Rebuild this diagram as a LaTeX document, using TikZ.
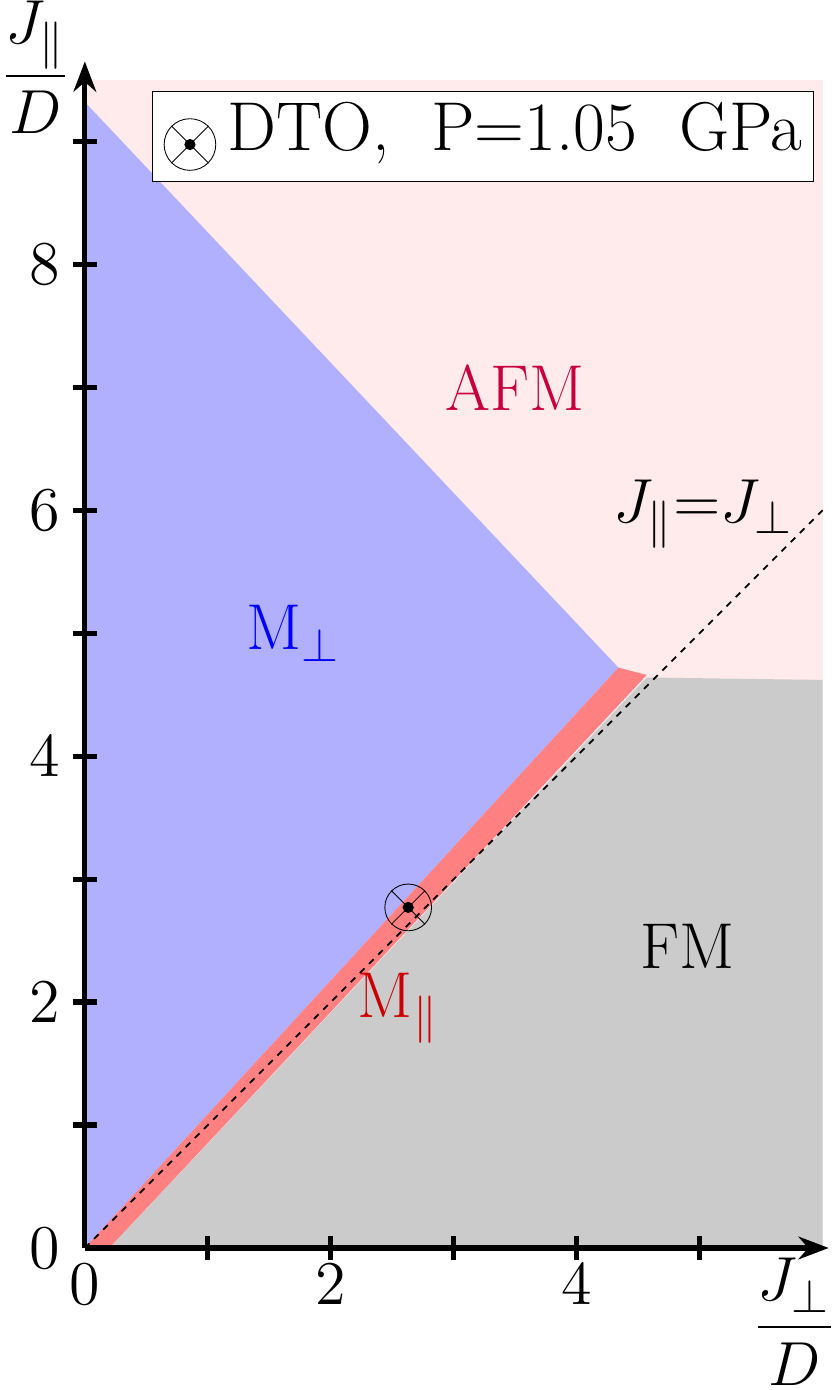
\documentclass[tikz,border=0pt]{standalone}
\usetikzlibrary{arrows.meta}
\definecolor{afmpink}{RGB}{255,235,236}
\definecolor{mperp}{RGB}{176,176,255}
\definecolor{mpar}{RGB}{255,128,128}
\definecolor{fmgrey}{RGB}{203,203,203}
\definecolor{afmtext}{RGB}{200,0,60}
\begin{document}
\begin{tikzpicture}[font=\fontsize{15}{18}\selectfont]
				\tikzstyle{axis}=[line width=1.2pt,-{Stealth[length=7pt]}]
				\useasboundingbox (-0.69,-1.155) rectangle (6.09,10.15);

				\fill[afmpink] (0,0) rectangle (6,9.5);
				\fill[mperp] (0,0) -- (0,9.32) -- (4.34,4.72) -- cycle;
				\fill[mpar] (0,0) -- (4.34,4.72) -- (4.57,4.66) -- (0.2,0) -- cycle;
				\fill[fmgrey] (0.2,0) -- (4.57,4.64) -- (6,4.62) -- (6,0) -- cycle;
				\draw[dash pattern=on 1.5pt off 1.5pt, thin] (0,0) -- (6,6);

				\draw[axis] (0,0) -- (6.05,0);
				\draw[axis] (0,0) -- (0,9.65);
				\foreach \x in {1,...,5} \draw[line width=1.2pt] (\x,-0.1) -- (\x,0.1);
				\foreach \y in {1,...,9} \draw[line width=1.2pt] (-0.1,\y) -- (0.1,\y);
				\foreach \x in {0,2,4} \node (xl\x) at (\x,-0.3) {$\x$};
				\foreach \y in {0,2,4,6,8} \node (yl\y) at (-0.33,\y) {$\y$};
				\node (xlab) at (5.77,-0.6) {$\displaystyle\frac{J_\perp}{D}$};
				\node (ylab) at (-0.4,9.6) {$\displaystyle\frac{J_\parallel}{D}$};

				\node[afmtext] (afm) at (3.5,7.0) {AFM};
				\node[blue] (mperpl) at (1.7,5.0) {M$_\perp$};
				\node[red!80!black] (mparl) at (2.55,1.95) {M$_\parallel$};
				\node (fm) at (4.9,2.45) {FM};
				\node (line) at (5.03,5.97) {$J_\parallel{=}J_\perp$};

				\node[draw, circle, minimum size=0.38cm, inner sep=0pt, very thin] (dto) at (2.63,2.77) {};
				\draw[very thin] (dto.north west) -- (dto.south east) (dto.north east) -- (dto.south west);
				\fill (dto) circle (1.3pt);

				\node[draw, fill=white, very thin, anchor=north west, inner sep=2.5pt, font=\fontsize{16}{19}\selectfont] (legend) at (0.55,9.41)
					{\tikz[baseline=-2mm]{\node[draw,circle,minimum size=0.42cm,inner sep=0pt,very thin] (lg) {};
					\draw[very thin] (lg.north west) -- (lg.south east) (lg.north east) -- (lg.south west);
					\fill (lg) circle (1.3pt);}\,DTO,\ \ P=1.05\ \ GPa};
			\end{tikzpicture}
\end{document}
